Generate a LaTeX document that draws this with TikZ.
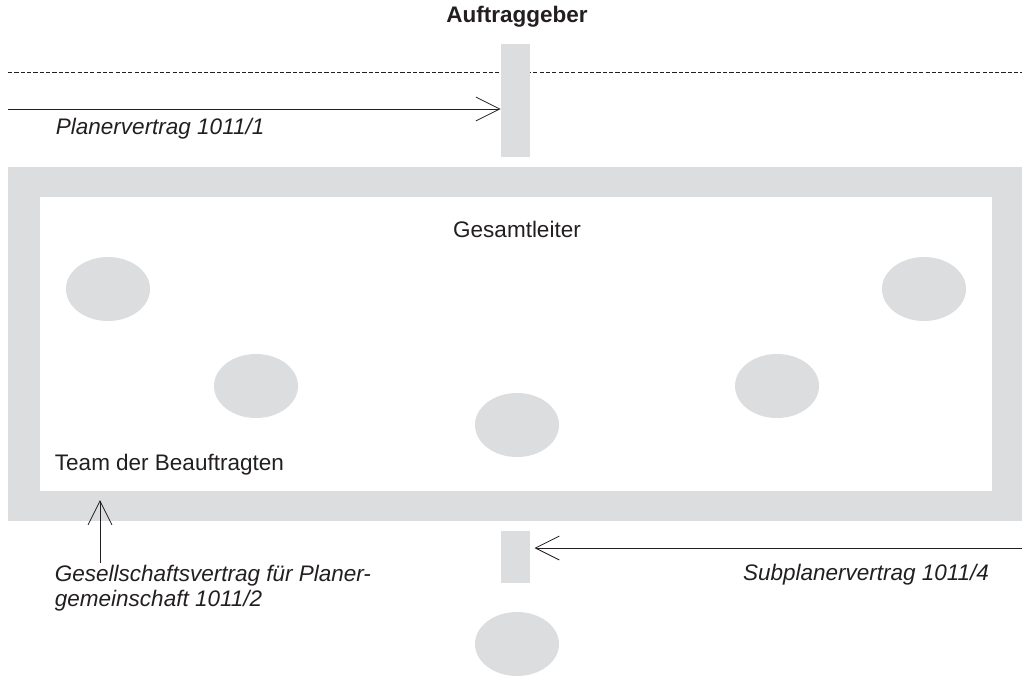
\documentclass[tikz,border=0pt]{standalone}
\usepackage{fontspec}
\setmainfont{Liberation Sans}
\usepackage{xcolor}
\usetikzlibrary{arrows.meta,positioning,shapes.geometric}
\definecolor{panel}{RGB}{220,221,223}
\definecolor{ink}{RGB}{35,31,32}

\begin{document}
\begin{tikzpicture}
[x=0.025cm,y=-0.025cm,
>={Straight Barb[length=17pt,width=17pt]},
conn/.style={->,draw=ink,line width=0.6pt},
title/.style={font=\fontsize{16}{20}\selectfont\bfseries,text=ink},
plain/.style={font=\fontsize{16}{20}\selectfont,text=ink},
label/.style={font=\fontsize{16}{18}\selectfont\itshape,text=ink,align=left},
member/.style={ellipse,fill=panel,inner sep=0pt,minimum width=2.1cm,minimum height=1.6cm},
bar/.style={rectangle,fill=panel,inner sep=0pt,minimum width=0.725cm},
dashline/.style={draw=ink,dash pattern=on 3pt off 1.5pt,line width=0.5pt}]

  \useasboundingbox (0,0) rectangle (1022,679);

  % client side
  \node[title] (client) at (517,17) {Auftraggeber};
  \draw[dashline] (8,72) -- (1022,72);
  \node[bar,minimum height=2.825cm] (clientbar) at (515.5,100.5) {};
  \coordinate (pvstart) at (8,109);
  \draw[conn] (pvstart) -- (pvstart -| clientbar.west);
  \node[label,anchor=west] (pvlabel) at (51,129) {Planervertrag 1011/1};

  % planner team
  \node[rectangle,fill=panel,inner sep=0pt,minimum width=25.35cm,minimum height=8.85cm] (frame) at (515,344) {};
  \node[rectangle,fill=white,inner sep=0pt,minimum width=23.8cm,minimum height=7.35cm] (team) at (516,344) {};
  \node[plain] (lead) at (517,229) {Gesamtleiter};
  \node[member] (m1) at (108,289) {};
  \node[member] (m2) at (256,386) {};
  \node[member] (m3) at (517,425) {};
  \node[member] (m4) at (777,386) {};
  \node[member] (m5) at (924,289) {};
  \node[plain,anchor=west] (teamlabel) at (50,465) {Team der Beauftragten};

  % sub planner
  \node[bar,minimum height=1.3cm] (subbar) at (515.5,557) {};
  \node[member] (sub) at (517,644) {};
  \coordinate (spstart) at (1022,548);
  \draw[conn,shorten >=3pt] (spstart) -- (spstart -| subbar.east);
  \node[label,anchor=east] (splabel) at (994,575) {Subplanervertrag 1011/4};

  \coordinate (gvstart) at (100,563);
  \coordinate (gvend) at (100,500);
  \draw[conn] (gvstart) -- (gvend);
  \node[label,anchor=west] (gvlabel) at (50,588) {Gesellschaftsvertrag für Planer-\\gemeinschaft 1011/2};

\end{tikzpicture}
\end{document}
